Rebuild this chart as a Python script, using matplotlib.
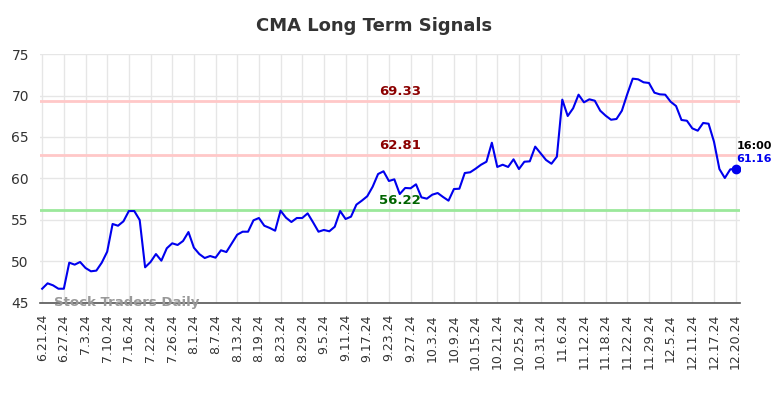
import matplotlib
matplotlib.use("Agg")
import matplotlib.pyplot as plt

title = "CMA Long Term Signals"
tick_labels = ["6.21.24", "6.27.24", "7.3.24", "7.10.24", "7.16.24", "7.22.24", "7.26.24",
               "8.1.24", "8.7.24", "8.13.24", "8.19.24", "8.23.24", "8.29.24", "9.5.24",
               "9.11.24", "9.17.24", "9.23.24", "9.27.24", "10.3.24", "10.9.24", "10.15.24",
               "10.21.24", "10.25.24", "10.31.24", "11.6.24", "11.12.24", "11.18.24",
               "11.22.24", "11.29.24", "12.5.24", "12.11.24", "12.17.24", "12.20.24"]

prices = [46.72, 47.37, 47.13, 46.72, 46.72, 49.86, 49.62, 49.94, 49.22, 48.82,
          48.90, 49.86, 51.18, 54.52, 54.31, 54.84, 56.08, 56.08, 55.00, 49.30,
          49.94, 50.90, 50.10, 51.59, 52.19, 51.99, 52.47, 53.55, 51.67, 50.90,
          50.42, 50.66, 50.46, 51.35, 51.14, 52.19, 53.23, 53.59, 53.59, 54.96,
          55.24, 54.31, 54.04, 53.71, 56.12, 55.28, 54.76, 55.24, 55.24, 55.80,
          54.72, 53.59, 53.80, 53.64, 54.19, 56.08, 55.12, 55.40, 56.85, 57.33,
          57.86, 59.01, 60.54, 60.87, 59.70, 59.90, 58.13, 58.86, 58.82, 59.30,
          57.73, 57.57, 58.05, 58.25, 57.77, 57.33, 58.73, 58.77, 60.66, 60.75,
          61.18, 61.66, 62.02, 64.31, 61.39, 61.66, 61.39, 62.31, 61.14, 62.02,
          62.07, 63.84, 63.04, 62.23, 61.78, 62.63, 69.50, 67.53, 68.46, 70.10,
          69.18, 69.54, 69.37, 68.17, 67.57, 67.08, 67.17, 68.17, 70.18, 72.03,
          71.95, 71.59, 71.51, 70.34, 70.14, 70.10, 69.25, 68.73, 67.05, 66.96,
          66.04, 65.76, 66.69, 66.60, 64.43, 61.14, 60.06, 61.10, 61.16]

levels = [69.33, 62.81, 56.22]
level_line_colors = ["#ffc8c8", "#ffc8c8", "#9be89b"]
level_text_colors = ["#8b0000", "#8b0000", "#006400"]
last_time = "16:00"

fig = plt.figure(figsize=(7.84, 3.98), dpi=100)
ax = fig.add_axes([40/784, 1-303/398, 700/784, 249/398])

x = list(range(len(prices)))
ax.plot(x, prices, color="#0000ee", lw=1.5, zorder=3)
ax.scatter([x[-1]], [prices[-1]], s=36, color="#0000ee", zorder=4)

for lv, lc, tc in zip(levels, level_line_colors, level_text_colors):
    ax.axhline(lv, color=lc, lw=2, zorder=2)
    ax.text(66, lv + 0.35, f"{lv:.2f}", color=tc, fontsize=9.5, fontweight="bold",
            ha="center", va="bottom", zorder=5)

ax.text(x[-1] + 0.2, prices[-1] + 2.75, last_time, color="black", fontsize=8,
        fontweight="bold", ha="left", va="center")
ax.text(x[-1] + 0.2, prices[-1] + 1.2, f"{prices[-1]:.2f}", color="#0000ee", fontsize=8,
        fontweight="bold", ha="left", va="center")

ax.set_ylim(45, 75)
ax.set_xlim(-0.4, 128.8)
ax.set_yticks([45, 50, 55, 60, 65, 70, 75])
ax.set_xticks(list(range(0, len(prices), 4)))
ax.set_xticklabels(tick_labels, rotation=90, fontsize=9, color="#333333")
ax.tick_params(axis="y", labelsize=10, colors="#333333", length=0, pad=8)
ax.tick_params(axis="x", length=0, pad=8)
ax.grid(True, color="#e6e6e6", lw=1)
ax.set_axisbelow(True)
for s in ["top", "right", "left"]:
    ax.spines[s].set_visible(False)
ax.spines["bottom"].set_color("#555555")
ax.spines["bottom"].set_linewidth(1.2)

ax.text(2.2, 45.05, "Stock Traders Daily", color="#999999", fontsize=9.5,
        fontweight="bold", ha="left", va="center", zorder=6)

fig.text(374/784, 1-26/398, title, ha="center", va="center", fontsize=13,
         fontweight="bold", color="#333333")

fig.savefig("out.png", dpi=100)
